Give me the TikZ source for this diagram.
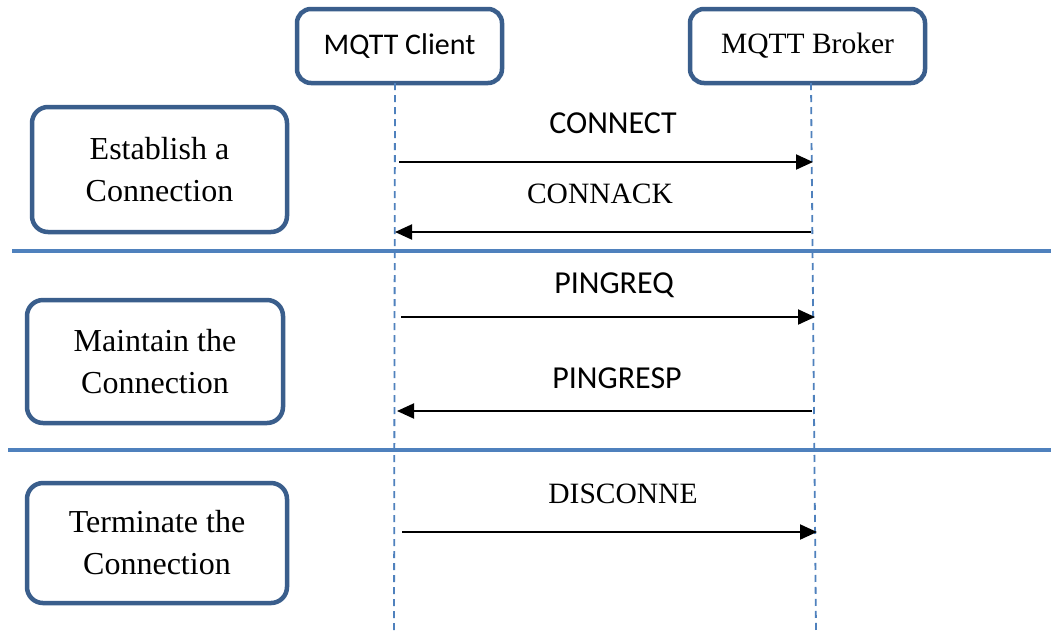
\documentclass[tikz,border=0pt]{standalone}
\usepackage{fontspec}
\setmainfont{Liberation Serif}
\newfontfamily\calfont{Carlito}
\usetikzlibrary{arrows.meta}
\definecolor{boxblue}{RGB}{58,94,140}
\definecolor{lineblue}{RGB}{79,129,189}
\tikzset{
  actorbox/.style={draw=boxblue, line width=4.5pt, rounded corners=14pt, fill=white, inner sep=0pt, align=center},
  phasebox/.style={draw=boxblue, line width=4.5pt, rounded corners=16pt, fill=white, inner sep=0pt, align=center, font=\fontsize{32}{42}\selectfont},
  lifeline/.style={draw=lineblue, line width=1.8pt, dash pattern=on 7pt off 5pt},
  sepline/.style={draw=lineblue, line width=3.5pt},
  msg/.style={draw=black, line width=2pt, -{Triangle[length=17pt,width=15pt]}},
  lblcal/.style={inner sep=0pt, font=\calfont\fontsize{32}{36}\selectfont},
  lbltimes/.style={inner sep=0pt, font=\fontsize{29.5}{34}\selectfont}
}
\begin{document}
\begin{tikzpicture}[x=1pt,y=-1pt]
\useasboundingbox (0,0) rectangle (1051,633);
\fill[white] (0,0) rectangle (1051,633);

% separators
\coordinate (s1a) at (12,251);
\coordinate (s1b) at (1051,251);
\coordinate (s2a) at (8,450);
\coordinate (s2b) at (1051,450);
\draw[sepline] (s1a) -- (s1b);
\draw[sepline] (s2a) -- (s2b);

% actors
\node[actorbox, minimum width=205pt, minimum height=74pt, font=\calfont\fontsize{30}{34}\selectfont] (client) at (399.5,46) {MQTT Client};
\node[actorbox, minimum width=235pt, minimum height=74pt, font=\fontsize{29.5}{34}\selectfont] (broker) at (807.5,46) {MQTT Broker};

% lifelines
\coordinate (cbot) at (394,633);
\coordinate (bbot) at (816,633);
\draw[lifeline] (395,83) -- (cbot);
\draw[lifeline] (811,83) -- (bbot);

% phase boxes
\node[phasebox, minimum width=255pt, minimum height=125pt] (est) at (159.5,169.5) {Establish a\\Connection};
\node[phasebox, minimum width=256pt, minimum height=123pt] (mnt) at (155,361.5) {Maintain the\\Connection};
\node[phasebox, minimum width=260pt, minimum height=120pt] (trm) at (157,543) {Terminate the\\Connection};

% message end points
\coordinate (c1) at (399,162);  \coordinate (b1) at (813,162);
\coordinate (b2) at (811,232);  \coordinate (c2) at (395,232);
\coordinate (c3) at (401,317);  \coordinate (b3) at (815,317);
\coordinate (b4) at (812,411);  \coordinate (c4) at (397,411);
\coordinate (c5) at (402,532);  \coordinate (b5) at (817,532);

\draw[msg] (c1) -- (b1);
\draw[msg] (b2) -- (c2);
\draw[msg] (c3) -- (b3);
\draw[msg] (b4) -- (c4);
\draw[msg] (c5) -- (b5);

% labels
\node[lblcal] (l1) at (613,123) {CONNECT};
\node[lbltimes] (l2) at (600,194) {CONNACK};
\node[lblcal] (l3) at (614,285) {PINGREQ};
\node[lblcal] (l4) at (617,378) {PINGRESP};
\node[lbltimes] (l5) at (623,494) {DISCONNE};
\end{tikzpicture}
\end{document}
